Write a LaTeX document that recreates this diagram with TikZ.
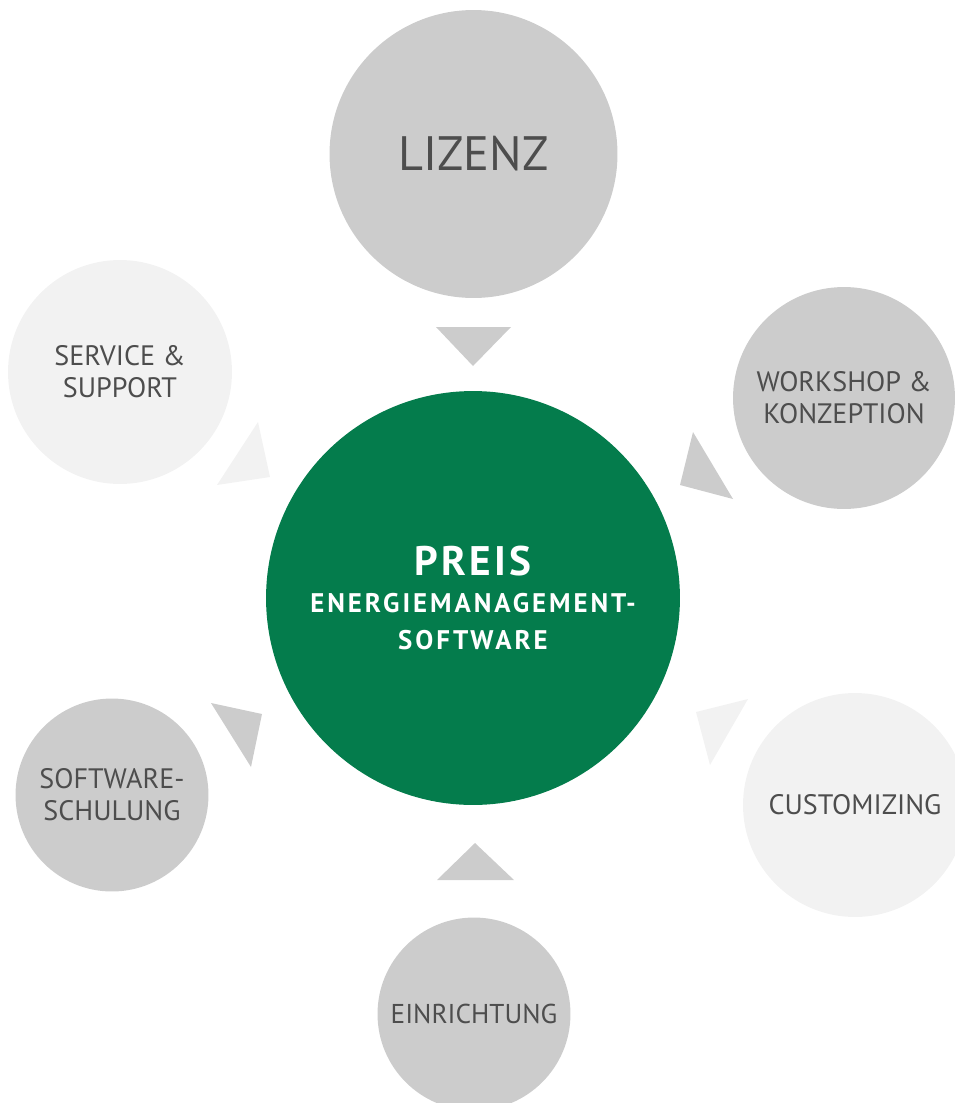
\documentclass[tikz,border=0pt]{standalone}
\usepackage{fontspec}
\setmainfont{PT Sans}
\newfontfamily\preisfont[LetterSpace=8]{PT Sans Bold}
\newfontfamily\preissub[LetterSpace=11]{PT Sans Bold}
\usetikzlibrary{positioning}
\definecolor{preisgreen}{HTML}{047C4C}
\definecolor{darkgrey}{HTML}{CCCCCC}
\definecolor{lightgrey}{HTML}{F2F2F2}
\definecolor{textgrey}{HTML}{4D4D4D}
\tikzset{
  bubble/.style={circle,inner sep=0pt,align=center,text=textgrey,
    font=\fontsize{16}{18.1}\selectfont},
  dark/.style={bubble,fill=darkgrey},
  light/.style={bubble,fill=lightgrey},
  pointer/.style={fill=darkgrey},
  lightpointer/.style={fill=lightgrey},
}

\begin{document}
\begin{tikzpicture}[x=0.02cm,y=-0.02cm]
\useasboundingbox (0,0) rectangle (955,1103);
\clip (0,0) rectangle (955,1103);
% centre
\node[circle,fill=preisgreen,minimum size=8.28cm,inner sep=0pt,align=center,text=white,
  font=\preisfont\fontsize{23.5}{21}\selectfont] (preis) at (473,598)
  {PREIS\\\preissub\fontsize{15.3}{19}\selectfont ENERGIEMANAGEMENT-\\
   \preissub\fontsize{15.3}{19}\selectfont SOFTWARE};
% bubbles round it
\node[dark,minimum size=5.76cm,font=\fontsize{27.5}{30}\selectfont] (lizenz) at (473.5,154) {LIZENZ};
\node[dark,minimum size=4.44cm] (workshop) at (844,398) {WORKSHOP \&\\KONZEPTION};
\node[light,minimum size=4.48cm] (custom) at (855,805) {CUSTOMIZING};
\node[dark,minimum size=3.86cm,font=\fontsize{15.5}{18.1}\selectfont] (einricht) at (474,1014) {EINRICHTUNG};
\node[dark,minimum size=3.86cm] (schulung) at (112,795) {SOFTWARE-\\SCHULUNG};
\node[light,minimum size=4.48cm] (service) at (120,372) {SERVICE \&\\SUPPORT};
% pointers
\fill[pointer] (436,327) -- (511,327) -- (473,366) -- cycle;
\fill[pointer] (693,432) -- (680,485) -- (733,499) -- cycle;
\fill[lightpointer] (696,712) -- (748,699) -- (710,765) -- cycle;
\fill[pointer] (437,880) -- (514,880) -- (475,843) -- cycle;
\fill[pointer] (211,703) -- (262,714) -- (251,767) -- cycle;
\fill[lightpointer] (217,485) -- (270,477) -- (258,422) -- cycle;
\end{tikzpicture}
\end{document}
